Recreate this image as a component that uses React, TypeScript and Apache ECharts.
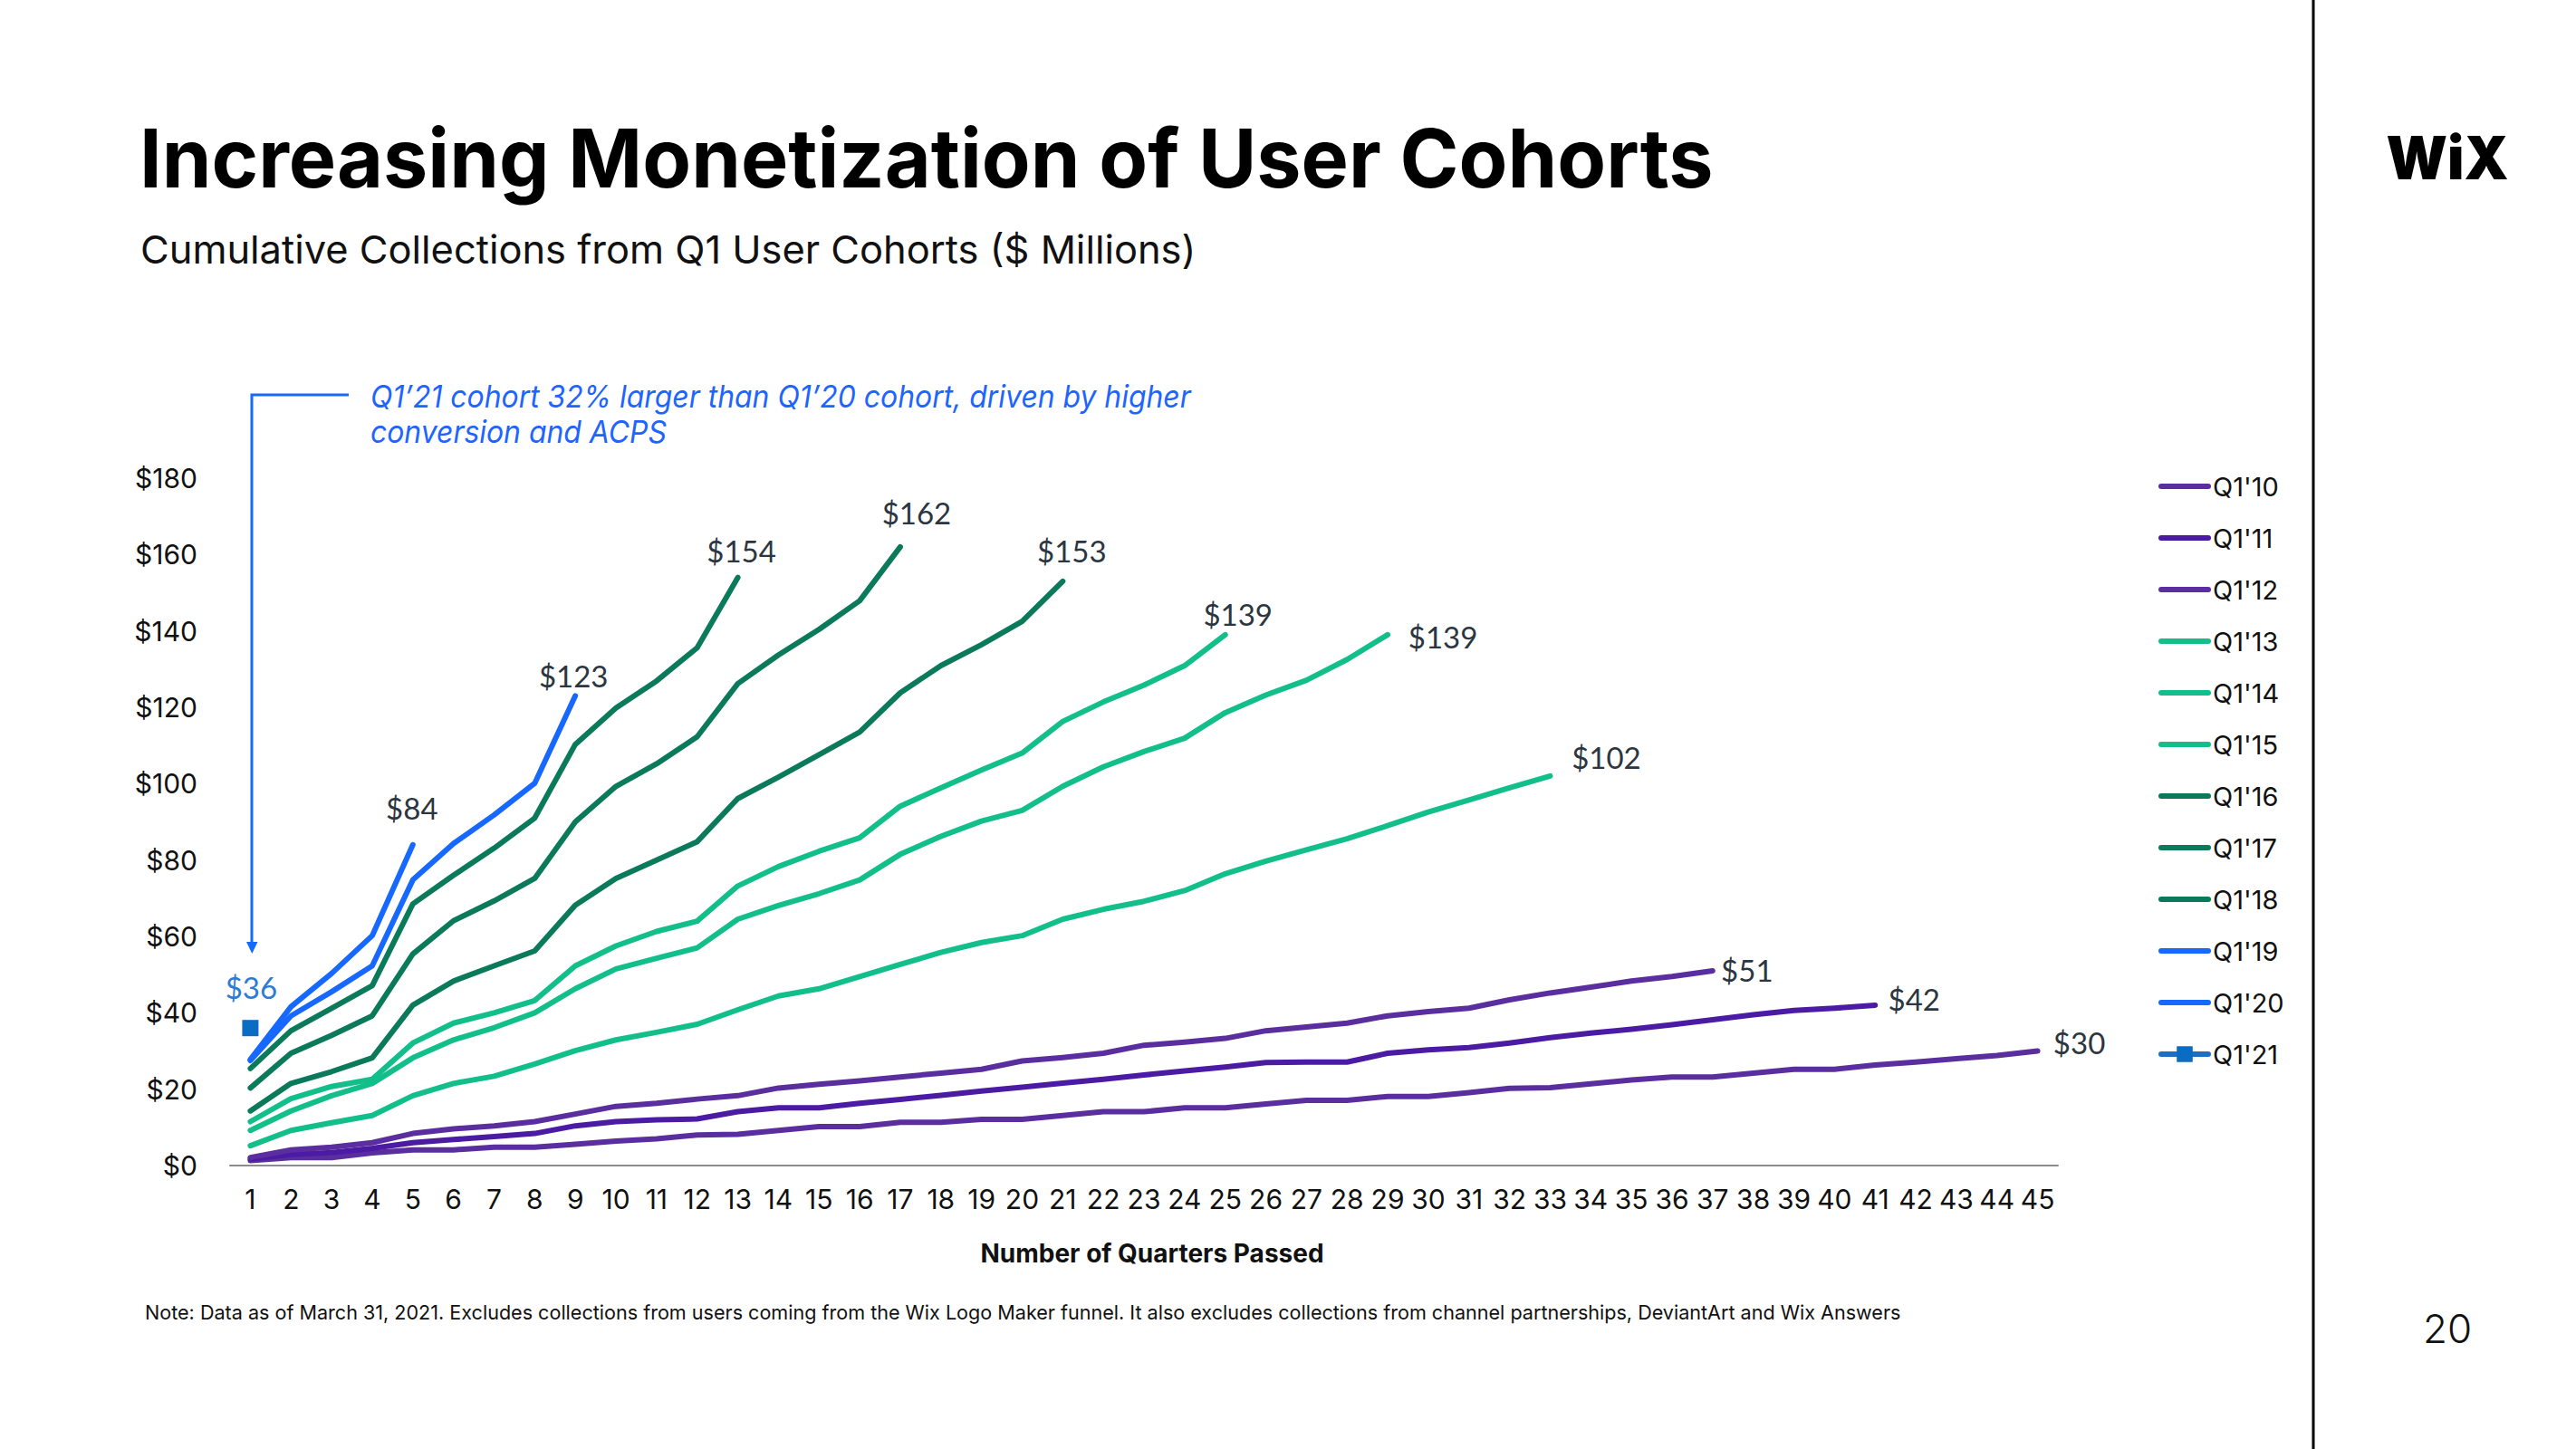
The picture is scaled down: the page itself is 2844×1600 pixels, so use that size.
import React, { useEffect, useRef } from 'react';
import * as echarts from 'echarts';

// ---- Data ----
const quarters = ['1', '2', '3', '4', '5', '6', '7', '8', '9', '10', '11', '12', '13', '14', '15', '16', '17', '18', '19', '20', '21', '22', '23', '24', '25', '26', '27', '28', '29', '30', '31', '32', '33', '34', '35', '36', '37', '38', '39', '40', '41', '42', '43', '44', '45'];

const cohorts = ["Q1'10", "Q1'11", "Q1'12", "Q1'13", "Q1'14", "Q1'15", "Q1'16", "Q1'17", "Q1'18", "Q1'19", "Q1'20", "Q1'21"];

const q1_10 = [1.3, 2.1, 2.1, 3.3, 4.1, 4.1, 4.8, 4.8, 5.6, 6.4, 7.0, 8.0, 8.2, 9.2, 10.2, 10.2, 11.3, 11.3, 12.1, 12.1, 13.1, 14.1, 14.1, 15.1, 15.1, 16.1, 17.1, 17.1, 18.1, 18.1, 19.1, 20.2, 20.4, 21.4, 22.4, 23.2, 23.2, 24.2, 25.2, 25.2, 26.3, 27.1, 28.0, 28.8, 30];
const q1_11 = [1.7, 2.9, 3.4, 4.5, 6.0, 6.8, 7.6, 8.4, 10.4, 11.5, 12.0, 12.2, 14.1, 15.1, 15.1, 16.3, 17.3, 18.4, 19.5, 20.5, 21.6, 22.6, 23.7, 24.8, 25.8, 27.0, 27.1, 27.1, 29.4, 30.3, 30.9, 32.1, 33.5, 34.7, 35.7, 36.9, 38.2, 39.5, 40.6, 41.2, 42];
const q1_12 = [2.1, 4.1, 4.8, 6.0, 8.4, 9.6, 10.4, 11.5, 13.5, 15.5, 16.3, 17.4, 18.3, 20.3, 21.3, 22.2, 23.2, 24.2, 25.2, 27.4, 28.3, 29.4, 31.5, 32.3, 33.3, 35.3, 36.3, 37.3, 39.2, 40.3, 41.2, 43.4, 45.2, 46.7, 48.3, 49.5, 51];
const q1_13 = [5.2, 9.2, 11.2, 13.1, 18.3, 21.5, 23.4, 26.6, 30.1, 32.9, 34.9, 37.0, 40.8, 44.4, 46.3, 49.5, 52.7, 55.8, 58.4, 60.2, 64.5, 67.1, 69.2, 72.0, 76.4, 79.7, 82.7, 85.6, 89.0, 92.6, 95.7, 98.9, 102];
const q1_14 = [9.2, 14.3, 18.3, 21.5, 28.2, 32.9, 36.1, 40.0, 46.3, 51.5, 54.3, 57.0, 64.5, 68.1, 71.2, 74.8, 81.5, 86.2, 90.2, 93.0, 99.3, 104.4, 108.4, 111.9, 118.6, 123.2, 127.1, 132.5, 139];
const q1_15 = [11.5, 17.5, 20.7, 22.6, 32.1, 37.3, 40.0, 43.2, 52.3, 57.5, 61.3, 64.0, 73.2, 78.3, 82.3, 85.8, 94.1, 98.9, 103.6, 108.0, 116.3, 121.4, 125.8, 130.9, 139];
const q1_16 = [14.3, 21.5, 24.6, 28.2, 42.0, 48.3, 52.3, 56.2, 68.2, 75.2, 80.0, 84.8, 96.1, 101.7, 107.6, 113.5, 123.8, 130.9, 136.4, 142.5, 153];
const q1_17 = [20.3, 29.4, 34.1, 39.2, 55.4, 64.1, 69.3, 75.2, 90.0, 99.3, 105.2, 112.3, 126.2, 133.7, 140.4, 147.9, 162];
const q1_18 = [25.4, 35.3, 41.2, 47.1, 68.5, 76.0, 83.1, 91.0, 110.3, 119.8, 126.9, 135.6, 154];
const q1_19 = [27.5, 39.2, 45.5, 52.3, 74.8, 84.3, 91.8, 100.1, 123];
const q1_20 = [27.8, 41.6, 50.3, 60.2, 84];
const q1_21 = [36];

const cohortValues = [q1_10, q1_11, q1_12, q1_13, q1_14, q1_15, q1_16, q1_17, q1_18, q1_19, q1_20, q1_21];

// ---- Styles ----
const lineColors = ['#5A2E9E', '#4B1BA3', '#5A2E9E', '#12BF8B', '#12BF8B', '#12BF8B', '#0A7A5B', '#0A7A5B', '#0A7A5B', '#1668FF', '#1668FF', '#1E6FC3'];
const labelOffsets: [number, number][] = [[46, -10], [43, -7], [38, -1], [62, -21], [61, 2], [14, -23], [10, -34], [18, -38], [4, -30], [-2, -22], [-1, -41], [1, -45]];

const TITLE = 'Increasing Monetization of User Cohorts';
const SUBTITLE = 'Cumulative Collections from Q1 User Cohorts ($ Millions)';
const NOTE_1 = 'Q1\u201921 cohort 32% larger than Q1\u201920 cohort, driven by higher';
const NOTE_2 = 'conversion and ACPS';
const FOOTNOTE = 'Note: Data as of March 31, 2021. Excludes collections from users coming from the Wix Logo Maker funnel. It also excludes collections from channel partnerships, DeviantArt and Wix Answers';

function fitScale(text: string, font: string, target: number): number {
  const ctx = document.createElement('canvas').getContext('2d');
  if (!ctx) return 1;
  ctx.font = font;
  const w = ctx.measureText(text).width;
  return w > 0 ? target / w : 1;
}

type TOpt = { size: number; weight?: number; italic?: boolean; family?: string; fill?: string; align?: string; width?: number; scale?: number };

function textEl(text: string, x: number, y: number, o: TOpt) {
  const weight = o.weight || 400;
  const family = o.family || 'Inter';
  const font = `${o.italic ? 'italic ' : ''}${weight} ${o.size}px ${family}`;
  const sx = o.scale !== undefined ? o.scale : o.width ? fitScale(text, font, o.width) : 1;
  return {
    type: 'text',
    x,
    y,
    scaleX: sx,
    silent: true,
    style: {
      text,
      fontSize: o.size,
      fontWeight: weight,
      fontStyle: o.italic ? 'italic' : 'normal',
      fontFamily: family,
      fill: o.fill || '#111111',
      textAlign: o.align || 'left',
      align: o.align || 'left',
      textVerticalAlign: 'middle',
      verticalAlign: 'middle',
    },
  };
}

export default function App() {
  const ref = useRef<HTMLDivElement>(null);

  useEffect(() => {
    const el = ref.current;
    if (!el) return;
    const chart = echarts.init(el, null, { renderer: 'svg' });

    const series = cohortValues.map((vals, i) => {
      const last = vals.length - 1;
      const isPoint = i === 11;
      return {
        name: cohorts[i],
        type: 'line',
        data: vals.map((v, j) =>
          j === last
            ? {
                value: v,
                symbol: isPoint ? 'rect' : 'circle',
                symbolSize: isPoint ? 18 : 1,
                label: {
                  show: true,
                  position: 'inside',
                  offset: labelOffsets[i],
                  formatter: '$' + Math.round(v),
                  color: isPoint ? '#2D7BD4' : '#2B3640',
                  fontFamily: 'Lato',
                  fontSize: 33,
                  align: 'center',
                  verticalAlign: 'middle',
                },
              }
            : v
        ),
        symbol: isPoint ? 'rect' : 'none',
        symbolSize: isPoint ? 18 : 1,
        showSymbol: true,
        showAllSymbol: true,
        silent: true,
        emphasis: { disabled: true },
        lineStyle: { color: lineColors[i], width: 6, cap: 'round', join: 'round' },
        itemStyle: { color: isPoint ? '#0B6CC4' : lineColors[i] },
      };
    });

    const noteFont = 'italic 400 34px Inter';
    const noteScale = fitScale(NOTE_1, noteFont, 906);

    const option = {
      animation: false,
      backgroundColor: '#ffffff',
      tooltip: { show: false },
      grid: { left: 254, top: 528, width: 2018, height: 759, containLabel: false, outerBoundsMode: 'none' },
      legend: {
        orient: 'vertical',
        left: 2383,
        top: 522,
        padding: 0,
        itemWidth: 52,
        itemHeight: 22,
        itemGap: 27,
        selectedMode: false,
        textStyle: { fontFamily: 'Inter', fontSize: 29, color: '#111111', lineHeight: 30 },
        lineStyle: { width: 6, cap: 'round' },
        data: cohorts.map((n, i) => (i === 11 ? { name: n } : { name: n, itemStyle: { opacity: 0 } })),
      },
      xAxis: {
        type: 'category',
        data: quarters,
        boundaryGap: true,
        axisLine: { lineStyle: { color: '#8C8C8C', width: 2 } },
        axisTick: { show: false },
        splitLine: { show: false },
        axisLabel: { interval: 0, margin: 22, fontSize: 30, color: '#111111', fontFamily: 'Inter' },
        name: 'Number of Quarters Passed',
        nameLocation: 'middle',
        nameGap: 97,
        nameTextStyle: { fontSize: 28, fontWeight: 700, color: '#111111', fontFamily: 'Inter', verticalAlign: 'middle', padding: [0, 0, 0, 18] },
      },
      yAxis: {
        type: 'value',
        min: 0,
        max: 180,
        interval: 20,
        axisLine: { show: false },
        axisTick: { show: false },
        splitLine: { show: false },
        axisLabel: { formatter: (v: number) => '$' + v, fontSize: 30, color: '#111111', margin: 36, fontFamily: 'Inter' },
      },
      series,
      graphic: [
        textEl(TITLE, 154, 174, { size: 90, weight: 700, width: 1738, fill: '#000000' }),
        textEl(SUBTITLE, 155, 275, { size: 43, weight: 400, width: 1166, fill: '#111111' }),
        textEl(NOTE_1, 409, 438, { size: 34, italic: true, fill: '#1E64FF', scale: noteScale }),
        textEl(NOTE_2, 409, 477, { size: 34, italic: true, fill: '#1E64FF', scale: noteScale }),
        {
          type: 'polyline',
          silent: true,
          shape: { points: [[385, 436], [278, 436], [278, 1043]] },
          style: { stroke: '#1669FF', lineWidth: 3, fill: null },
        },
        {
          type: 'polygon',
          silent: true,
          shape: { points: [[272, 1040], [284.5, 1040], [278.3, 1053]] },
          style: { fill: '#1669FF' },
        },
        textEl(FOOTNOTE, 160, 1449, { size: 22, weight: 400, width: 1939, fill: '#111111' }),
        {
          type: 'line',
          silent: true,
          shape: { x1: 2554, y1: 0, x2: 2554, y2: 1600 },
          style: { stroke: '#000000', lineWidth: 3 },
        },
        textEl('WiX', 2702, 174, { size: 66, weight: 900, align: 'center', width: 135, fill: '#000000' }),
        textEl('20', 2702, 1467, { size: 44, weight: 300, align: 'center', fill: '#111111' }),
      ],
    };

    chart.setOption(option as any);
    return () => chart.dispose();
  }, []);

  return (
    <div
      ref={ref}
      style={{ position: 'absolute', left: 0, top: 0, width: 2844, height: 1600, background: '#ffffff' }}
    />
  );
}
